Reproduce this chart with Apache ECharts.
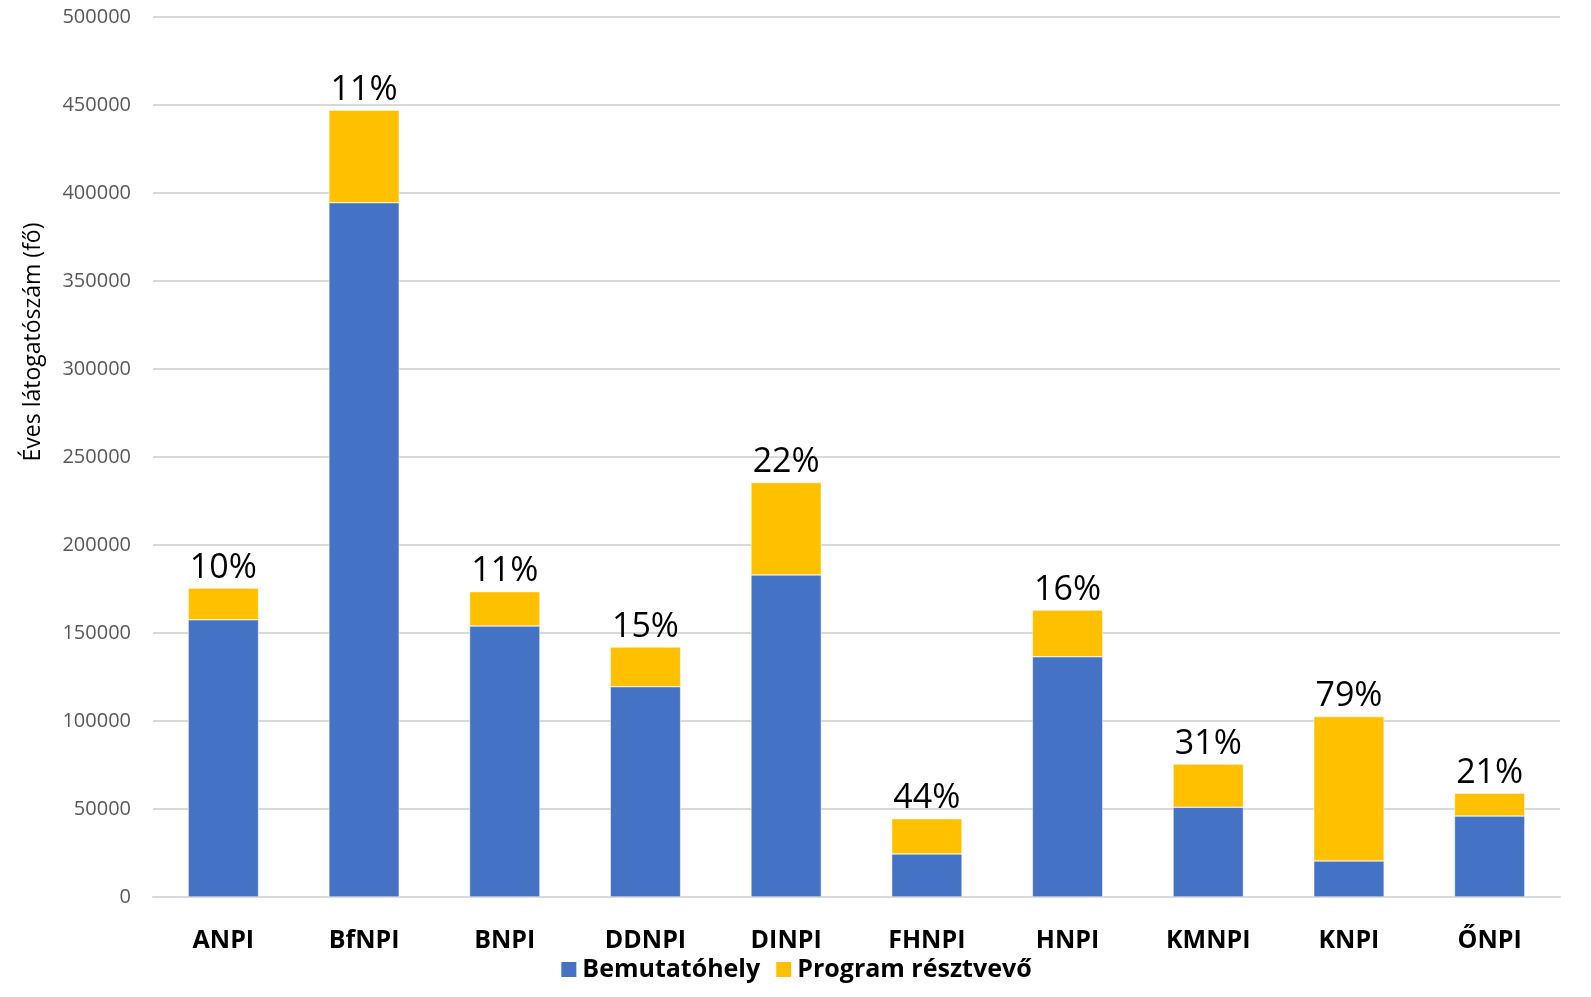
<!DOCTYPE html>
<html>
<head>
<meta charset="utf-8">
<script src="https://cdn.jsdelivr.net/npm/echarts@6/dist/echarts.min.js"></script>
<style>html,body{margin:0;padding:0;background:#fff;overflow:hidden;}#c{width:100vw;height:100vh;}</style>
</head>
<body>
<div id="c"></div>
<script>
const categories = ['ANPI','BfNPI','BNPI','DDNPI','DINPI','FHNPI','HNPI','KMNPI','KNPI','ŐNPI'];
const bemutatohely = [157500, 394500, 154000, 119500, 183000, 24500, 136500, 51000, 20500, 46000];
const program = [18000, 52500, 19500, 22500, 52500, 20000, 26500, 24500, 82000, 13000];
const percentLabels = ['10%','11%','11%','15%','22%','44%','16%','31%','79%','21%'];
const yTicks = [0, 50000, 100000, 150000, 200000, 250000, 300000, 350000, 400000, 450000, 500000];

const chart = echarts.init(document.getElementById('c'), null, {renderer: 'canvas'});
chart.setOption({
  backgroundColor: '#fff',
  animation: false,
  grid: {left: 153, right: 31, top: 17, bottom: 100, containLabel: false},
  legend: {
    bottom: 10, left: 'center',
    itemWidth: 17, itemHeight: 17, itemGap: 14,
    icon: 'rect',
    textStyle: {fontFamily: 'Open Sans', fontWeight: 'bold', fontSize: 25, color: '#000'},
    data: ['Bemutatóhely', 'Program résztvevő']
  },
  xAxis: {
    type: 'category', data: categories,
    axisLine: {lineStyle: {color: '#d9d9d9', width: 2}},
    axisTick: {show: false},
    axisLabel: {fontFamily: 'Open Sans', fontWeight: 'bold', fontSize: 25, color: '#000', margin: 31}
  },
  yAxis: {
    type: 'value', min: yTicks[0], max: yTicks[yTicks.length-1], interval: 50000,
    axisLine: {show: false}, axisTick: {show: false},
    splitLine: {lineStyle: {color: '#d9d9d9', width: 2}},
    axisLabel: {fontFamily: 'Open Sans', fontSize: 20, color: '#595959', margin: 22,
      formatter: v => String(v)}
  },
  graphic: [{
    type: 'text', x: 33, y: 342, rotation: Math.PI/2,
    style: {text: 'Éves látogatószám (fő)', font: '23px "Open Sans"', fill: '#000', textAlign: 'center', textVerticalAlign: 'middle'}
  }],
  series: [
    {name: 'Bemutatóhely', type: 'bar', stack: 'a', data: bemutatohely, barWidth: '50%',
     itemStyle: {color: '#4472c4', borderColor: '#fff', borderWidth: 0.5}},
    {name: 'Program résztvevő', type: 'bar', stack: 'a', data: program, barWidth: '50%',
     itemStyle: {color: '#ffc000', borderColor: '#fff', borderWidth: 0.5},
     label: {show: true, position: 'top', distance: 3,
       formatter: p => percentLabels[p.dataIndex],
       fontFamily: 'Open Sans', fontSize: 34, color: '#000'}}
  ]
});
</script>
</body>
</html>
